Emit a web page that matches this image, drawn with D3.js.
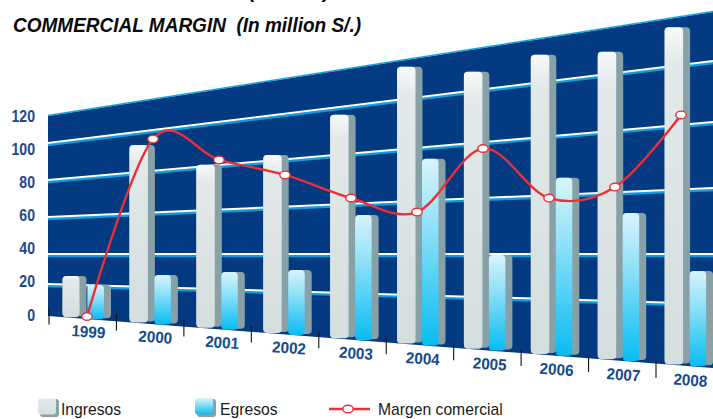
<!DOCTYPE html>
<html><head><meta charset="utf-8">
<script src="https://d3js.org/d3.v7.min.js"></script>
<style>html,body{margin:0;padding:0;background:#fff;overflow:hidden}svg{display:block}text{font-family:"Liberation Sans",Arial,sans-serif}</style>
</head><body><svg id="c" width="713" height="419"></svg>
<script>
const years=[1999,2000,2001,2002,2003,2004,2005,2006,2007,2008];
const ingresos=[25.7,93.5,80.7,82.4,96.8,116.5,109.2,112.8,109.8,116.2];
const egresos=[20.3,27.5,29.8,31.5,55.4,75.5,39.5,65.6,53.1,33.1];
const margen=[1.5,95.6,82.4,73.4,62.3,55.8,77.7,59,61.7,83.3];
const yTicks=[0,20,40,60,80,100,120];
const title="COMMERCIAL MARGIN  (In million S/.)";
const legendNames=["Ingresos","Egresos","Margen comercial"];

const svg=d3.select("#c");
const W=713;
const leftY=d3.scaleLinear().domain(yTicks).range([316,284,254,217,180,143,116]);
const rightY=d3.scaleLinear().domain(yTicks).range([368,304,254,188,122,61,12]);
const tX=d3.scaleLinear().domain([48,W]).range([0,1]);
const py=(v,x)=>{const t=tX(x);return leftY(v)+t*(rightY(v)-leftY(v));};
const idx=d3.scaleLinear().domain([1999,2008]);
const xBar=idx.copy().range([62.5,664.6]);
const xLine=idx.copy().range([87,681]);
const xLabel=idx.copy().range([88,690]);
const xTick=d3.scaleLinear().domain([0,9]).range([49,656]);
const labelY=d3.scaleLinear().domain([0,120]).range([315,116.5]);

const defs=svg.append("defs");
function grad(id,stops){const g=defs.append("linearGradient").attr("id",id).attr("x1",0).attr("y1",0).attr("x2",0).attr("y2",1);
 stops.forEach(s=>g.append("stop").attr("offset",s[0]).attr("stop-color",s[1]));}
grad("gI",[[0,"#f7fafa"],[0.1,"#e3e9ea"],[1,"#d4dedf"]]);
grad("gE",[[0,"#d8f4fb"],[0.35,"#93e2f8"],[1,"#08bcf2"]]);

svg.append("path").attr("fill","#033a82")
 .attr("d",`M48,${py(120,48)}L${W},${py(120,W)}L${W},${py(0,W)}L48,${py(0,48)}Z`);
svg.append("line").attr("x1",48).attr("x2",W).attr("y1",py(120,48)-.5).attr("y2",py(120,W)-.5).attr("stroke","#12a5e4").attr("stroke-width",1.5);
yTicks.filter(v=>v>0&&v<120).forEach(v=>{
 svg.append("line").attr("x1",48).attr("x2",W).attr("y1",py(v,48)+2).attr("y2",py(v,W)+2).attr("stroke","#0a9fe0").attr("stroke-width",2.4);
 svg.append("line").attr("x1",48).attr("x2",W).attr("y1",py(v,48)).attr("y2",py(v,W)).attr("stroke","#fff").attr("stroke-width",2);
});
svg.selectAll(".yl").data(yTicks).join("text")
 .attr("transform",d=>`translate(35,${labelY(d)+5.5}) scale(.88,1)`)
 .attr("text-anchor","end").attr("font-size",16).attr("font-weight","bold").attr("fill","#1a4a8c").text(d=>d);
years.forEach((y,i)=>{const x=xTick(i),b=py(0,x);const off=-8+6.5*tX(x);
 svg.append("line").attr("x1",x).attr("x2",x).attr("y1",b+off).attr("y2",b+off+16.5).attr("stroke","#111").attr("stroke-width",1.1);});
svg.selectAll(".xl").data(years).join("text").attr("text-anchor","middle")
 .attr("transform",d=>{const x=xLabel(d);return `translate(${x},${py(0,x)+18+1.5*tX(x)}) rotate(4) scale(.95,1)`;})
 .attr("font-size",16).attr("font-weight","bold").attr("fill","#144a8e").text(d=>d);
function bar(x,w,v,fill){
 const c=x+w/2,top=py(v,c),bot=py(0,c)-.5;
 svg.append("rect").attr("x",x).attr("y",top).attr("width",w+7).attr("height",bot-top-1).attr("rx",4).attr("fill","#88a1a6");
 svg.append("rect").attr("x",x).attr("y",top).attr("width",w).attr("height",bot-top).attr("rx",4).attr("fill",fill);
}
years.forEach((y,i)=>{
 const x=xBar(y);
 bar(x,i==0?17:18.5,ingresos[i],"url(#gI)");
 bar(x+25,16.5,egresos[i],"url(#gE)");
});
const pts=years.map((y,i)=>[xLine(y),py(margen[i],xLine(y))]);
svg.append("path").attr("d",d3.line().curve(d3.curveCatmullRom.alpha(0))(pts)).attr("fill","none").attr("stroke","#ed2f35").attr("stroke-width",2.4);
svg.selectAll(".m").data(pts).join("ellipse").attr("cx",d=>d[0]).attr("cy",d=>d[1]).attr("rx",5.2).attr("ry",3.8).attr("fill","#fff").attr("stroke","#ed2f35").attr("stroke-width",1.4);
svg.append("text").attr("x",13).attr("y",31.5).attr("font-size",20.5).attr("font-weight","bold").attr("font-style","italic").attr("fill","#0a0a0a").style("white-space","pre").attr("textLength",348).attr("lengthAdjust","spacingAndGlyphs").text(title);
// the line above the title is cut off by the top edge in the reference: only its brackets show
[["(",249],[")",323]].forEach(p=>svg.append("text").attr("x",p[1]).attr("y",-2.5).attr("font-size",20.5).attr("font-weight","bold").attr("font-style","italic").attr("fill","#0a0a0a").text(p[0]));
function swatch(x,fill){
 svg.append("rect").attr("x",x+2).attr("y",399).attr("width",19).attr("height",18).attr("rx",3).attr("fill","#88a1a6");
 svg.append("rect").attr("x",x).attr("y",398).attr("width",18).attr("height",16.5).attr("rx",3).attr("fill",fill);
}
swatch(38,"url(#gI)");swatch(195,"url(#gE)");
const lg=svg.append("g").attr("font-size",15.7).attr("fill","#1a1a1a");
lg.append("text").attr("x",61).attr("y",415).text(legendNames[0]);
lg.append("text").attr("x",220).attr("y",415).text(legendNames[1]);
lg.append("text").attr("x",378).attr("y",415).text(legendNames[2]);
svg.append("line").attr("x1",329).attr("x2",370).attr("y1",409).attr("y2",409).attr("stroke","#ed2f35").attr("stroke-width",2.4);
svg.append("ellipse").attr("cx",348).attr("cy",409).attr("rx",5.2).attr("ry",3.8).attr("fill","#fff").attr("stroke","#ed2f35").attr("stroke-width",1.4);
</script></body></html>
